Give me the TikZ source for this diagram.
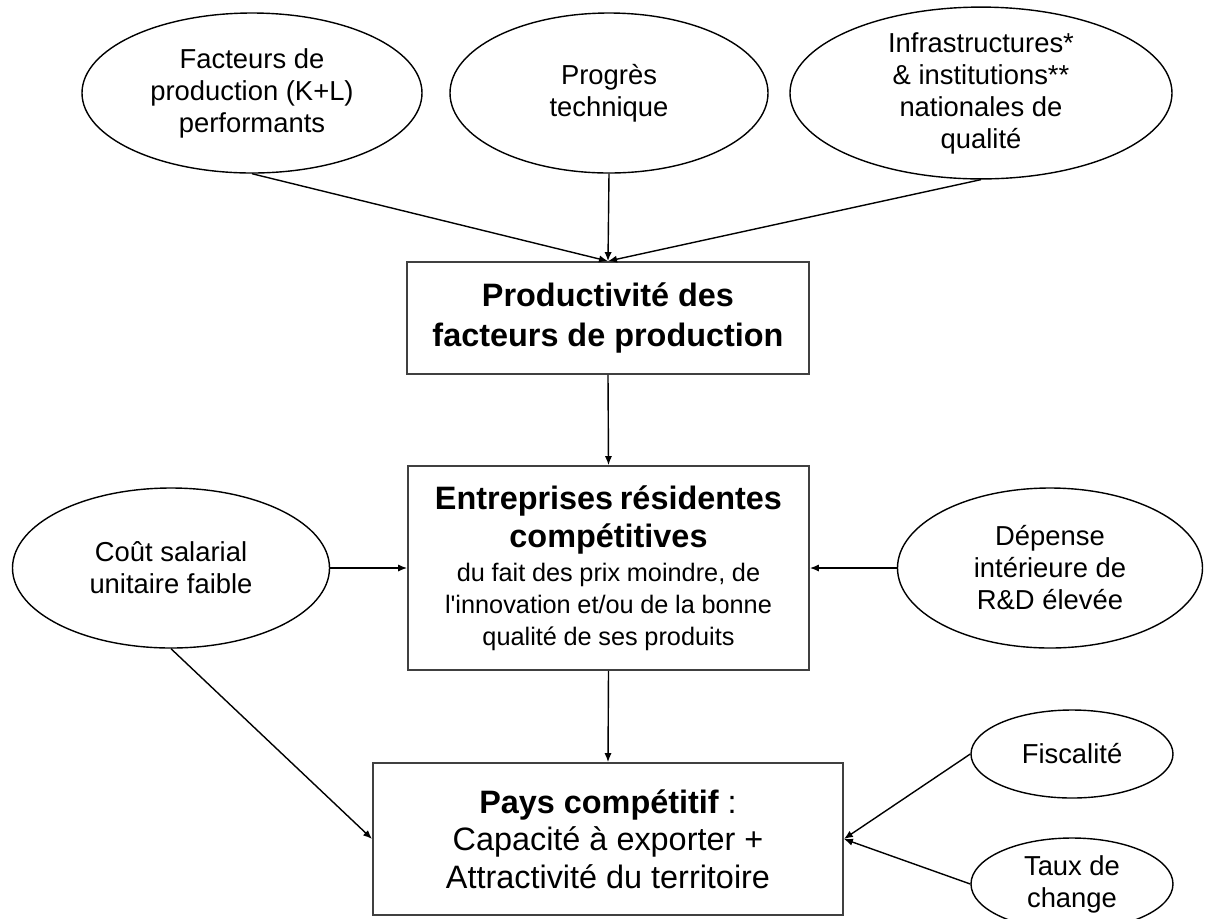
\documentclass[tikz,border=0pt]{standalone}
\usepackage{fontspec}
\setmainfont{Liberation Sans}[Ligatures=TeXOff]
\usetikzlibrary{shapes.geometric}
\usetikzlibrary{arrows.meta}

\begin{document}
\begin{tikzpicture}[x=0.5pt,y=-0.5pt,
  bulle/.style={draw, ellipse, line width=0.7pt, inner sep=0pt, align=center,
    font=\fontsize{13.7}{16}\selectfont},
  cadre/.style={draw=black!75, rectangle, line width=0.9pt, inner sep=0pt, align=center},
  fleche/.style={-{Latex[length=4.5pt,width=3.6pt]}, line width=0.7pt}]
\useasboundingbox (0,0) rectangle (1212,918);

\node[bulle, minimum width=170pt, minimum height=80pt] (facteurs) at (252,93) {Facteurs de\\production (K+L)\\performants};
\node[bulle, minimum width=159pt, minimum height=80pt] (progres) at (609,93) {Progrès\\technique};
\node[bulle, minimum width=191pt, minimum height=80pt] (infra) at (981,93) {Infrastructures*\\\& institutions**\\nationales de\\qualité};

\node[cadre, minimum width=201pt, minimum height=56pt, font=\fontsize{16.2}{20}\selectfont\bfseries] (productivite) at (608,318) {Productivité des\\facteurs de production};

\node[cadre, minimum width=200.5pt, minimum height=102pt, text width=198pt] (entreprises) at (608.5,568)
  {{\fontsize{16.2}{19}\selectfont\bfseries Entreprises résidentes\\compétitives\par}%
   {\fontsize{12.65}{16}\selectfont\vspace{1pt}du fait des prix moindre, de\\l'innovation et/ou de la bonne\\qualité de ses produits\par}};

\node[bulle, minimum width=158.5pt, minimum height=80pt] (cout) at (171,568) {Coût salarial\\unitaire faible};
\node[bulle, minimum width=152.5pt, minimum height=80pt] (rd) at (1050,568) {Dépense\\intérieure de\\R\&D élevée};

\node[cadre, minimum width=235pt, minimum height=76pt, font=\fontsize{16.2}{18.8}\selectfont] (pays) at (608,839) {{\bfseries Pays compétitif} :\\Capacité à exporter +\\Attractivité du territoire};

\node[bulle, minimum width=101pt, minimum height=44pt] (fiscalite) at (1072,754) {Fiscalité};
\node[bulle, minimum width=101pt, minimum height=46pt] (taux) at (1072,884) {Taux de\\change};

\draw[fleche] (facteurs.south) -- (productivite.north);
\draw[fleche] (progres.south) -- (productivite.north);
\draw[fleche] (infra.south) -- (productivite.north);
\draw[fleche] (productivite.south) -- (entreprises.north);
\draw[fleche] (cout.east) -- (entreprises.west);
\draw[fleche] (rd.west) -- (entreprises.east);
\draw[fleche] (entreprises.south) -- (pays.north);
\draw[fleche] (cout.south) -- (pays.west);
\draw[fleche] (fiscalite.west) -- (pays.east);
\draw[fleche] (taux.west) -- (pays.east);
\end{tikzpicture}
\end{document}
